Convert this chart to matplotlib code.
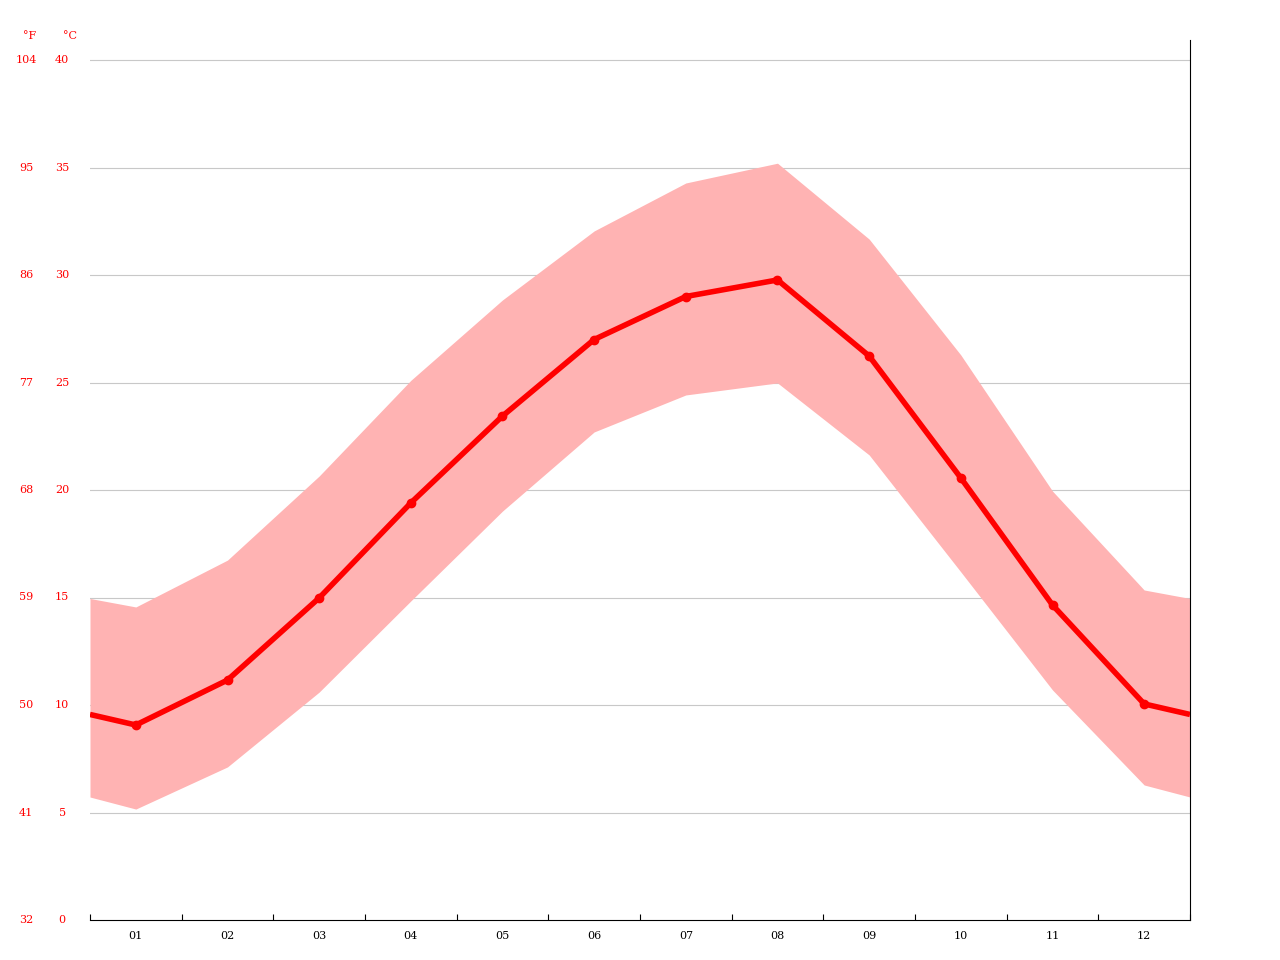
import matplotlib
matplotlib.use("Agg")
import matplotlib.pyplot as plt
import numpy as np

months = ["01","02","03","04","05","06","07","08","09","10","11","12"]
t_mean = [9.07,11.16,14.98,19.4,23.44,27.0,29.0,29.77,26.23,20.56,14.65,10.05]
t_max = [14.56,16.74,20.65,25.1,28.84,32.05,34.28,35.2,31.67,26.28,19.95,15.35]
t_min = [5.16,7.12,10.6,14.84,19.02,22.7,24.42,24.98,21.63,16.19,10.7,6.28]
c_ticks = [0,5,10,15,20,25,30,35,40]
f_ticks = ["32","41","50","59","68","77","86","95","104"]

def wrap(v):
    e = (v[0]+v[-1])/2
    return [e]+list(v)+[e]

x = np.arange(1,13)
xe = np.concatenate([[0.5],x,[12.5]])

fig = plt.figure(figsize=(12.8,9.6),dpi=100)
ax = fig.add_axes([90/1280,40/960,1100/1280,880/960])
ax.fill_between(xe,wrap(t_min),wrap(t_max),color="#ffb3b3",lw=0,zorder=2)
ax.plot(xe,wrap(t_mean),color="#ff0000",lw=4,zorder=3,solid_capstyle="butt")
ax.plot(x,t_mean,"o",color="#ff0000",ms=6,zorder=4)
ax.set_xlim(0.5,12.5)
ax.set_ylim(0,(920-40)/21.5)
for c in c_ticks[1:]:
    ax.axhline(c,color="#c8c8c8",lw=0.8,zorder=1)
for s in ["top","left"]:
    ax.spines[s].set_visible(False)
ax.spines["right"].set_color("black")
ax.spines["bottom"].set_color("black")
ax.set_yticks([])
ax.set_xticks(np.arange(0.5,12.6,1))
ax.set_xticklabels([])
ax.set_xticks(x,minor=True)
ax.set_xticklabels(months,minor=True,fontsize=8,family="DejaVu Serif")
ax.tick_params(axis="x",which="minor",length=0,pad=8)
ax.tick_params(axis="x",which="major",length=4,direction="in")
for c,f in zip(c_ticks,f_ticks):
    ax.text(-0.1,c,str(c),transform=ax.get_yaxis_transform(),color="#ff0000",fontsize=8,family="DejaVu Serif",ha="center",va="center") if False else None
    ax.annotate(str(c),(0,c),xycoords=("axes fraction","data"),xytext=(-20,0),textcoords="offset points",color="#ff0000",fontsize=8,family="DejaVu Serif",ha="center",va="center")
    ax.annotate(f,(0,c),xycoords=("axes fraction","data"),xytext=(-46,0),textcoords="offset points",color="#ff0000",fontsize=8,family="DejaVu Serif",ha="center",va="center")
fig.text(30/1280,1-36/960,"°F",color="#ff0000",fontsize=8,family="DejaVu Serif",ha="center",va="center")
fig.text(70/1280,1-36/960,"°C",color="#ff0000",fontsize=8,family="DejaVu Serif",ha="center",va="center")
fig.savefig("out.png",dpi=100)
